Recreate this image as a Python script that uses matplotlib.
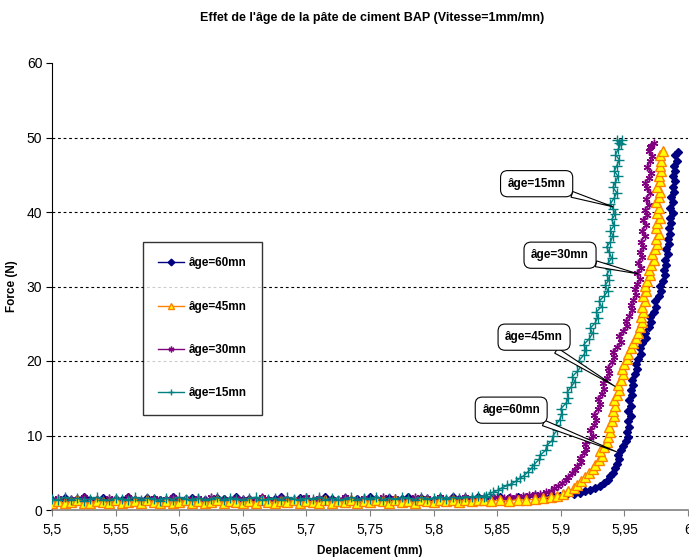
import matplotlib
matplotlib.use("Agg")
import matplotlib.pyplot as plt
from matplotlib.ticker import FuncFormatter, MultipleLocator
from matplotlib import font_manager

names = {f.name for f in font_manager.fontManager.ttflist}
narrow = "Liberation Sans Narrow" if "Liberation Sans Narrow" in names else "Liberation Sans"
plt.rcParams["font.family"] = [narrow, "Liberation Sans", "DejaVu Sans"]
BOLD_FAMILY = ["Liberation Sans", "DejaVu Sans"]

# ---- data -------------------------------------------------------------
title = "Effet de l'âge de la pâte de ciment BAP (Vitesse=1mm/mn)"
x_label = "Deplacement (mm)"
y_label = "Force (N)"
labels = ["âge=60mn", "âge=45mn", "âge=30mn", "âge=15mn"]

# displacement readings on the flat part of every test (mm)
base_disp = [5.500, 5.505, 5.510, 5.515, 5.520, 5.525, 5.530, 5.535, 5.540, 5.545,
             5.550, 5.555, 5.560, 5.565, 5.570, 5.575, 5.580, 5.585, 5.590, 5.595,
             5.600, 5.605, 5.610, 5.615, 5.620, 5.625, 5.630, 5.635, 5.640, 5.645,
             5.650, 5.655, 5.660, 5.665, 5.670, 5.675, 5.680, 5.685, 5.690, 5.695,
             5.700, 5.705, 5.710, 5.715, 5.720, 5.725, 5.730, 5.735, 5.740, 5.745,
             5.750, 5.755, 5.760, 5.765, 5.770, 5.775, 5.780, 5.785, 5.790, 5.795,
             5.800, 5.805, 5.810, 5.815, 5.820, 5.825, 5.830, 5.835, 5.840]

# force on the flat part (N)
base_f60 = [1.4, 1.2, 1.6, 1.3, 1.5, 1.7, 1.3, 1.4, 1.6, 1.2,
            1.5, 1.3, 1.7, 1.4, 1.2, 1.6, 1.5, 1.3, 1.4, 1.7,
            1.2, 1.5, 1.6, 1.3, 1.4, 1.2, 1.6, 1.5, 1.3, 1.7,
            1.4, 1.5, 1.2, 1.6, 1.3, 1.5, 1.7, 1.4, 1.3, 1.6,
            1.5, 1.2, 1.4, 1.7, 1.5, 1.3, 1.6, 1.4, 1.5, 1.3,
            1.7, 1.5, 1.4, 1.6, 1.3, 1.5, 1.7, 1.4, 1.6, 1.5,
            1.3, 1.6, 1.4, 1.7, 1.5, 1.6, 1.4, 1.7, 1.5]
base_f45 = [1.0, 1.2, 0.9, 1.1, 1.3, 1.0, 0.9, 1.2, 1.1, 1.0,
            1.3, 0.9, 1.1, 1.2, 1.0, 1.3, 1.1, 0.9, 1.2, 1.0,
            1.1, 1.3, 1.0, 1.2, 0.9, 1.1, 1.3, 1.0, 1.2, 1.1,
            0.9, 1.2, 1.0, 1.3, 1.1, 1.0, 1.2, 1.1, 1.3, 1.0,
            1.2, 1.1, 0.9, 1.3, 1.0, 1.2, 1.1, 1.3, 1.0, 1.2,
            1.1, 1.3, 1.2, 1.0, 1.3, 1.1, 1.2, 1.0, 1.3, 1.2,
            1.1, 1.3, 1.2, 1.4, 1.1, 1.3, 1.2, 1.4, 1.3]
base_f30 = [1.3, 1.6, 1.2, 1.5, 1.4, 1.7, 1.3, 1.5, 1.2, 1.6,
            1.4, 1.3, 1.7, 1.5, 1.2, 1.4, 1.6, 1.3, 1.5, 1.7,
            1.4, 1.2, 1.5, 1.6, 1.3, 1.7, 1.4, 1.5, 1.2, 1.6,
            1.5, 1.3, 1.4, 1.7, 1.5, 1.2, 1.6, 1.4, 1.3, 1.5,
            1.7, 1.4, 1.6, 1.3, 1.5, 1.4, 1.7, 1.5, 1.3, 1.6,
            1.4, 1.5, 1.7, 1.3, 1.6, 1.5, 1.4, 1.7, 1.5, 1.6,
            1.4, 1.7, 1.5, 1.6, 1.4, 1.7, 1.6, 1.5, 1.7]
base_f15 = [1.5, 1.3, 1.7, 1.4, 1.6, 1.2, 1.5, 1.7, 1.4, 1.3,
            1.6, 1.5, 1.3, 1.7, 1.4, 1.6, 1.5, 1.2, 1.6, 1.4,
            1.7, 1.5, 1.3, 1.6, 1.4, 1.5, 1.7, 1.3, 1.6, 1.5,
            1.4, 1.6, 1.7, 1.3, 1.5, 1.6, 1.4, 1.7, 1.5, 1.3,
            1.6, 1.5, 1.7, 1.4, 1.6, 1.3, 1.5, 1.7, 1.4, 1.6,
            1.5, 1.7, 1.4, 1.6, 1.5, 1.7, 1.6, 1.4, 1.7, 1.5,
            1.6, 1.8, 1.5, 1.7, 1.6, 1.8, 1.7, 1.9, 1.8]

# loading branch of each test: (displacement mm, force N)
rise_60 = [(5.845, 1.5), (5.852, 1.7), (5.859, 1.6), (5.866, 1.8), (5.873, 1.7), (5.880, 1.9),
           (5.887, 1.8), (5.893, 2.0), (5.899, 1.9), (5.905, 2.1), (5.910, 2.2), (5.915, 2.3),
           (5.919, 2.5), (5.923, 2.7), (5.927, 2.9), (5.931, 3.2), (5.934, 3.6), (5.937, 4.0),
           (5.939, 4.5), (5.941, 5.0), (5.943, 5.6), (5.944, 6.2), (5.946, 6.8), (5.945, 7.4),
           (5.947, 8.0), (5.949, 8.6), (5.951, 9.2), (5.953, 9.8), (5.952, 10.5), (5.954, 11.2),
           (5.953, 11.9), (5.955, 12.6), (5.953, 13.3), (5.955, 14.0), (5.954, 14.7), (5.956, 15.4),
           (5.955, 16.1), (5.957, 16.8), (5.956, 17.5), (5.958, 18.2), (5.960, 18.9), (5.959, 19.6),
           (5.961, 20.3), (5.963, 21.0), (5.962, 21.7), (5.964, 22.4), (5.967, 23.1), (5.966, 23.8),
           (5.969, 24.5), (5.971, 25.2), (5.970, 25.9), (5.973, 26.6), (5.975, 27.3), (5.974, 28.0),
           (5.977, 28.7), (5.979, 29.4), (5.978, 30.1), (5.980, 30.8), (5.982, 31.5), (5.981, 32.2),
           (5.983, 32.9), (5.982, 33.6), (5.984, 34.3), (5.983, 35.0), (5.985, 35.7), (5.984, 36.4),
           (5.986, 37.1), (5.985, 37.8), (5.987, 38.5), (5.986, 39.2), (5.988, 39.9), (5.986, 40.6),
           (5.988, 41.3), (5.987, 42.0), (5.989, 42.7), (5.988, 43.4), (5.990, 44.1), (5.988, 44.8),
           (5.990, 45.5), (5.989, 46.2), (5.991, 46.9), (5.990, 47.6), (5.992, 48.0)]

rise_45 = [(5.845, 1.2), (5.852, 1.3), (5.859, 1.2), (5.866, 1.4), (5.873, 1.3), (5.880, 1.5),
           (5.886, 1.6), (5.892, 1.8), (5.897, 1.9), (5.902, 2.1), (5.906, 2.5), (5.910, 2.9),
           (5.913, 3.4), (5.916, 3.9), (5.919, 4.4), (5.922, 4.9), (5.925, 5.5), (5.927, 6.1),
           (5.930, 6.7), (5.932, 7.3), (5.931, 7.9), (5.934, 8.5), (5.936, 9.1), (5.937, 9.8),
           (5.939, 10.5), (5.938, 11.2), (5.940, 11.9), (5.942, 12.6), (5.941, 13.3), (5.943, 14.0),
           (5.942, 14.7), (5.944, 15.4), (5.946, 16.1), (5.945, 16.8), (5.947, 17.5), (5.949, 18.2),
           (5.948, 18.9), (5.950, 19.6), (5.952, 20.3), (5.953, 21.0), (5.955, 21.7), (5.957, 22.4),
           (5.959, 23.1), (5.961, 23.8), (5.962, 24.5), (5.964, 25.2), (5.963, 25.9), (5.965, 26.6),
           (5.964, 27.3), (5.966, 28.0), (5.965, 28.7), (5.967, 29.4), (5.966, 30.1), (5.968, 30.8),
           (5.970, 31.5), (5.969, 32.2), (5.971, 32.9), (5.973, 33.6), (5.972, 34.3), (5.974, 35.0),
           (5.976, 35.7), (5.975, 36.4), (5.977, 37.1), (5.975, 37.8), (5.976, 38.5), (5.978, 39.2),
           (5.976, 39.9), (5.977, 40.6), (5.975, 41.3), (5.977, 42.0), (5.978, 42.7), (5.976, 43.4),
           (5.978, 44.1), (5.977, 44.8), (5.979, 45.5), (5.978, 46.2), (5.979, 46.9), (5.978, 47.6),
           (5.980, 48.2)]

rise_30 = [(5.845, 1.6), (5.850, 1.7), (5.855, 1.6), (5.860, 1.8), (5.865, 1.7), (5.870, 1.9),
           (5.875, 2.0), (5.880, 2.1), (5.884, 2.2), (5.888, 2.4), (5.892, 2.6), (5.895, 2.9),
           (5.898, 3.2), (5.901, 3.6), (5.904, 4.0), (5.906, 4.4), (5.909, 4.9), (5.911, 5.4),
           (5.913, 5.9), (5.916, 6.4), (5.915, 7.0), (5.918, 7.6), (5.920, 8.2), (5.919, 8.8),
           (5.922, 9.4), (5.925, 10.0), (5.923, 10.7), (5.926, 11.4), (5.928, 12.1), (5.926, 12.8),
           (5.929, 13.5), (5.931, 14.2), (5.929, 14.9), (5.932, 15.6), (5.934, 16.3), (5.933, 17.0),
           (5.936, 17.7), (5.938, 18.4), (5.937, 19.1), (5.940, 19.8), (5.942, 20.5), (5.941, 21.2),
           (5.944, 21.9), (5.947, 22.6), (5.946, 23.3), (5.949, 24.0), (5.952, 24.7), (5.951, 25.4),
           (5.954, 26.1), (5.956, 26.8), (5.955, 27.5), (5.957, 28.2), (5.959, 28.9), (5.958, 29.6),
           (5.960, 30.3), (5.962, 31.0), (5.960, 31.8), (5.963, 32.5), (5.961, 33.2), (5.964, 33.9),
           (5.962, 34.6), (5.965, 35.3), (5.963, 36.0), (5.966, 36.8), (5.964, 37.5), (5.967, 38.2),
           (5.965, 38.9), (5.968, 39.6), (5.966, 40.3), (5.969, 41.0), (5.967, 41.8), (5.970, 42.5),
           (5.968, 43.2), (5.966, 43.9), (5.969, 44.6), (5.971, 45.3), (5.968, 46.0), (5.970, 46.8),
           (5.972, 47.5), (5.969, 48.2), (5.971, 48.9), (5.973, 49.2), (5.970, 48.7)]

rise_15 = [(5.841, 1.9), (5.844, 2.2), (5.847, 2.4), (5.851, 2.7), (5.854, 3.0), (5.858, 3.3),
           (5.861, 3.5), (5.865, 3.9), (5.868, 4.3), (5.871, 4.6), (5.874, 5.1), (5.877, 5.6),
           (5.879, 6.1), (5.883, 6.8), (5.884, 7.4), (5.888, 8.0), (5.889, 8.7), (5.893, 9.3),
           (5.894, 10.0), (5.897, 10.7), (5.896, 11.4), (5.899, 12.1), (5.901, 12.9), (5.900, 13.6),
           (5.904, 14.3), (5.906, 15.0), (5.905, 15.8), (5.908, 16.5), (5.911, 17.2), (5.909, 17.9),
           (5.913, 18.6), (5.916, 19.3), (5.914, 20.0), (5.918, 20.8), (5.920, 21.5), (5.918, 22.2),
           (5.922, 22.9), (5.925, 23.7), (5.923, 24.4), (5.927, 25.1), (5.929, 25.8), (5.928, 26.6),
           (5.932, 27.3), (5.930, 28.0), (5.934, 28.7), (5.937, 29.4), (5.935, 30.2), (5.938, 30.9),
           (5.936, 31.6), (5.939, 32.4), (5.937, 33.1), (5.940, 33.8), (5.938, 34.6), (5.936, 35.3),
           (5.939, 36.0), (5.941, 36.8), (5.939, 37.5), (5.942, 38.2), (5.940, 39.0), (5.943, 39.7),
           (5.941, 40.4), (5.939, 41.1), (5.942, 41.9), (5.944, 42.6), (5.941, 43.3), (5.943, 44.0),
           (5.945, 44.8), (5.942, 45.5), (5.944, 46.2), (5.946, 47.0), (5.943, 47.7), (5.945, 48.4),
           (5.947, 49.1), (5.944, 49.6), (5.946, 49.2), (5.948, 49.7)]

bases = [base_f60, base_f45, base_f30, base_f15]
rises = [rise_60, rise_45, rise_30, rise_15]

# callout labels: (text, point on curve, box centre)
callouts = [
    ("âge=15mn", (5.941, 40.7), (5.881, 43.8)),
    ("âge=30mn", (5.9607, 31.7), (5.8994, 34.2)),
    ("âge=45mn", (5.9426, 16.6), (5.879, 23.2)),
    ("âge=60mn", (5.944, 7.8), (5.861, 13.4)),
]

# ---- styles -----------------------------------------------------------
styles = [
    dict(color="#000080", marker="D", ms=4.5, mfc="#000080", mec="#000080", zorder=3),
    dict(color="#FF8000", marker="^", ms=6.5, mfc="#FFFF00", mec="#FF8000", mew=1.0, zorder=5),
    dict(color="#800080", marker=(6, 2, 0), ms=5.5, mfc="#800080", mec="#800080", zorder=4),
    dict(color="#008080", marker="+", ms=6.5, mfc="#008080", mec="#008080", zorder=6),
]

fig = plt.figure(figsize=(6.89, 5.59), dpi=100)
ax = fig.add_axes([52 / 689, 49 / 559, 636 / 689, 447 / 559])

handles = []
for base_f, rise, lab, st in zip(bases, rises, labels, styles):
    d = base_disp + [p[0] for p in rise]
    f = base_f + [p[1] for p in rise]
    h, = ax.plot(d, f, lw=1.0, label=lab, **st)
    handles.append(h)

ax.set_xlim(5.5, 6.0)
ax.set_ylim(0, 60)
ax.xaxis.set_major_locator(MultipleLocator(0.05))
ax.yaxis.set_major_locator(MultipleLocator(10))
ax.xaxis.set_major_formatter(FuncFormatter(
    lambda v, p: f"{v:.2f}".rstrip("0").rstrip(".").replace(".", ",")))

for yv in range(10, 60, 10):
    ax.axhline(yv, color="black", lw=0.8, ls=(0, (2.5, 2.5)), zorder=1)

ax.spines["top"].set_visible(False)
ax.spines["right"].set_visible(False)
ax.spines["left"].set_color("black")
ax.spines["bottom"].set_color("#808080")
ax.spines["bottom"].set_linewidth(1.2)
ax.tick_params(axis="both", direction="out", length=4, labelsize=10, colors="black")
ax.tick_params(axis="x", color="#808080", pad=5)
ax.tick_params(axis="y", pad=3)

fig.text(372 / 689, 1 - 18 / 559, title, ha="center", va="center",
         fontsize=9, fontweight="bold", family=BOLD_FAMILY)
ax.set_xlabel(x_label, fontsize=8.5, fontweight="bold", labelpad=6, family=BOLD_FAMILY)
ax.set_ylabel(y_label, fontsize=8.5, fontweight="bold", family=BOLD_FAMILY)
ax.yaxis.set_label_coords(-34 / 636, 0.5)

leg = ax.legend(handles=handles, loc="upper left", bbox_to_anchor=(91 / 636, 268 / 447),
                borderaxespad=0, frameon=True, fancybox=False, labelspacing=2.65,
                handlelength=2.2, handletextpad=0.4, borderpad=1.3, numpoints=1,
                markerscale=0.75,
                prop={"weight": "bold", "size": 8.5, "family": BOLD_FAMILY})
leg.get_frame().set_edgecolor("black")
leg.get_frame().set_linewidth(1.0)

for text, tip, box in callouts:
    ax.annotate(text, xy=tip, xytext=box, ha="center", va="center",
                fontsize=8.5, fontweight="bold", family=BOLD_FAMILY,
                bbox=dict(boxstyle="round,pad=0.6,rounding_size=0.6",
                          fc="white", ec="black", lw=0.8),
                arrowprops=dict(arrowstyle="wedge,tail_width=0.5", fc="white", ec="black",
                                lw=0.8, shrinkA=0, shrinkB=0),
                zorder=10)

fig.savefig("out.png", dpi=100)
